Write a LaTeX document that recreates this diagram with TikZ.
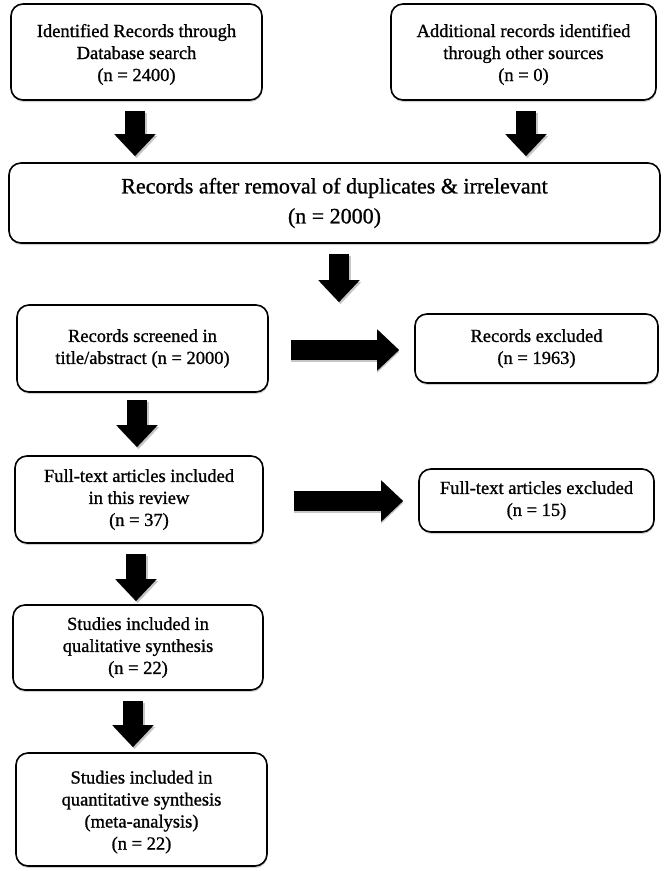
\documentclass[tikz,border=0pt]{standalone}
\usepackage{fontspec}
\setmainfont{Liberation Serif}
\newfontfamily\reffont{Liberation Serif}[FakeBold=1.0]
\usetikzlibrary{calc,arrows.meta,shadows}
\begin{document}
\begin{tikzpicture}[x=1pt,y=-1pt,
  box/.style={draw=black, line width=1.6pt, fill=white, rounded corners=12pt,
    align=center, inner sep=0pt, font=\reffont\fontsize{18.5}{22}\selectfont,
    drop shadow={shadow xshift=0.5pt, shadow yshift=-2pt, opacity=0.35, fill=gray}},
  blk/.style={line width=20pt, black, -{Triangle[width=40pt,length=22pt]}},
  blkshadow/.style={line width=20pt, gray!45, -{Triangle[width=40pt,length=22pt]}}
]
\useasboundingbox (0,0) rectangle (670,871);

\node[box, minimum width=251pt, minimum height=96pt] (b1) at (136.5,52)
  {\rule{0pt}{18pt}Identified Records through\\Database search\\(n = 2400)};
\node[box, minimum width=265pt, minimum height=96pt] (b2) at (523.5,52)
  {\rule{0pt}{18pt}Additional records identified\\through other sources\\(n = 0)};
\node[box, minimum width=651pt, minimum height=80pt, font=\reffont\fontsize{22}{30}\selectfont] (b3) at (334.5,203)
  {Records after removal of duplicates \& irrelevant\\(n = 2000)};
\node[box, minimum width=251pt, minimum height=87pt] (b4) at (142.5,348.5)
  {Records screened in\\title/abstract (n = 2000)};
\node[box, minimum width=243pt, minimum height=69pt] (b5) at (536.5,348.5)
  {Records excluded\\(n = 1963)};
\node[box, minimum width=248pt, minimum height=87pt] (b6) at (139,499.5)
  {Full-text articles included\\in this review\\(n = 37)};
\node[box, minimum width=235pt, minimum height=63pt] (b7) at (536.5,500.5)
  {Full-text articles excluded\\(n = 15)};
\node[box, minimum width=250pt, minimum height=85pt] (b8) at (138,647.5)
  {Studies included in\\qualitative synthesis\\(n = 22)};
\node[box, minimum width=251pt, minimum height=113pt] (b9) at (141.5,809.5)
  {\rule{0pt}{18pt}Studies included in\\quantitative synthesis\\(meta-analysis)\\(n = 22)};

% vertical block arrows
\foreach \s/\t/\dx/\ga/\gb in {b1/b3/-1.5/10/6, b2/b3/2.5/10/6, b3/b4/4.5/10/2, b4/b6/-5.5/7/8, b6/b8/-3/10/3, b8/b9/-5/10/5}{
  \draw[blkshadow] ($(\s.south)+(\dx+1.5,\ga+2)$) -- ($(\s.south |- \t.north)+(\dx+1.5,-\gb+2)$);
  \draw[blk] ($(\s.south)+(\dx,\ga)$) -- ($(\s.south |- \t.north)+(\dx,-\gb)$);
}
% horizontal block arrows
\draw[blkshadow] ($(b4.east)+(22,3.5)$) -- ($(b4.east -| b5.west)+(-15,3.5)$);
\draw[blk] ($(b4.east)+(22,1.5)$) -- ($(b4.east -| b5.west)+(-15,1.5)$);
\draw[blkshadow] ($(b6.east)+(30,3.5)$) -- ($(b6.east -| b7.west)+(-15,3.5)$);
\draw[blk] ($(b6.east)+(30,1.5)$) -- ($(b6.east -| b7.west)+(-15,1.5)$);
\end{tikzpicture}
\end{document}
